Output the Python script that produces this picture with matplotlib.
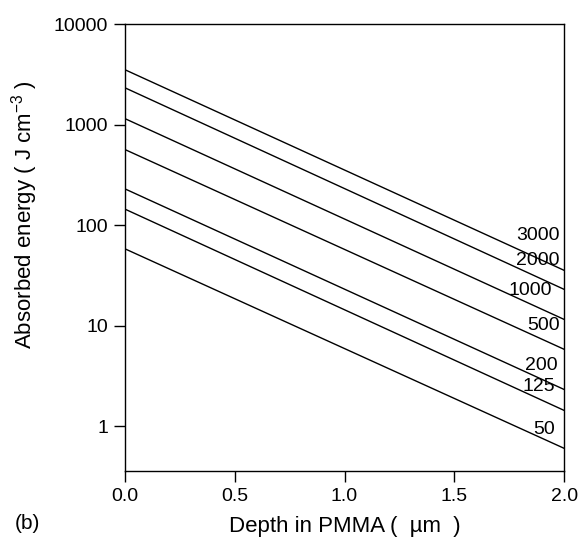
import numpy as np
import matplotlib.pyplot as plt

plt.rcParams['font.family'] = ['Liberation Sans', 'DejaVu Sans']
plt.rcParams['mathtext.fontset'] = 'custom'
plt.rcParams['mathtext.rm'] = 'Liberation Sans'
plt.rcParams['mathtext.default'] = 'regular'

# dose labels and energies read at depth 0 and 2 um
doses = ['3000', '2000', '1000', '500', '200', '125', '50']
depth = [0.0, 2.0]
e_start = [3510, 2320, 1145, 564, 229, 144, 58]
e_end = [35.4, 22.9, 11.5, 5.8, 2.31, 1.43, 0.60]

# label anchor (right edge x, centre y) in data units
lab_x = [1.98, 1.98, 1.945, 1.98, 1.97, 1.96, 1.96]
lab_y = [78.8, 44.5, 22.4, 10.1, 4.03, 2.5, 0.93]

fig = plt.figure(figsize=(5.81, 5.42), dpi=100)
ax = fig.add_axes([0.215, 0.131, 0.756, 0.8247])

for i in range(len(doses)):
    ax.plot(depth, [e_start[i], e_end[i]], color='black', lw=1.0)
    ax.text(lab_x[i], lab_y[i], doses[i], ha='right', va='center', fontsize=14)

ax.set_yscale('log')
ax.set_xlim(0, 2.0)
ax.set_ylim(0.357, 10000)
ax.set_xticks([0, 0.5, 1.0, 1.5, 2.0])
ax.set_xticklabels(['0.0', '0.5', '1.0', '1.5', '2.0'])
ax.set_yticks([1, 10, 100, 1000, 10000])
ax.set_yticklabels(['1', '10', '100', '1000', '10000'])
ax.yaxis.set_minor_locator(plt.NullLocator())
ax.tick_params(direction='out', length=8, width=1, labelsize=14, pad=4)

for s in ax.spines.values():
    s.set_linewidth(1.0)

ax.set_xlabel('Depth in PMMA (  \u00b5m  )', fontsize=16, labelpad=8)
ax.set_ylabel('Absorbed energy ( J cm$^{-3}$ )', fontsize=16)
ax.yaxis.set_label_coords(-0.193, 0.573)
fig.text(0.026, 0.024, '(b)', fontsize=15)

fig.savefig('out.png', dpi=100)
